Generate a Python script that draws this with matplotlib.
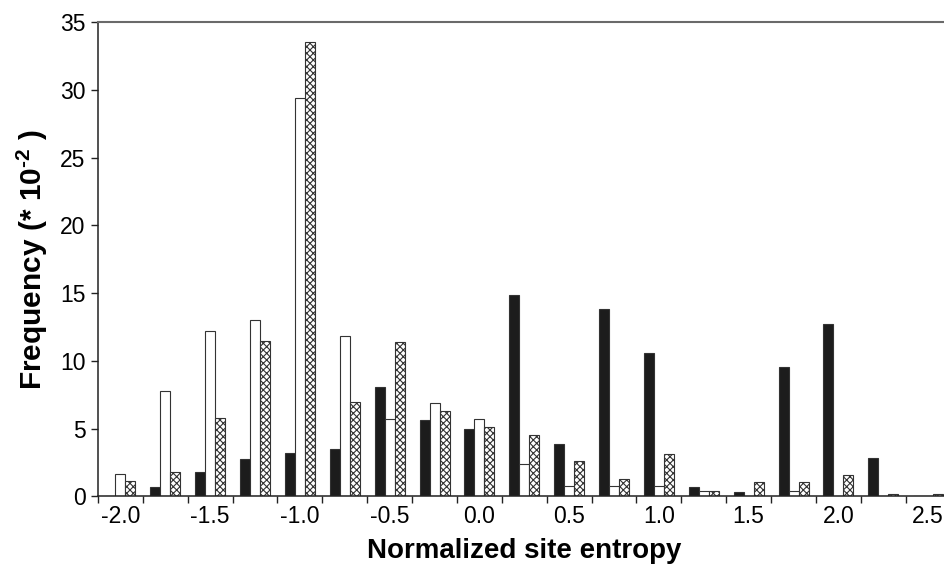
import numpy as np
import matplotlib
matplotlib.use("Agg")
import matplotlib.pyplot as plt

plt.rcParams['font.family'] = ['Liberation Sans', 'DejaVu Sans']
plt.rcParams['mathtext.fontset'] = 'custom'
plt.rcParams['mathtext.rm'] = 'Liberation Sans:bold'
plt.rcParams['mathtext.bf'] = 'Liberation Sans:bold'
plt.rcParams['hatch.linewidth'] = 0.8

# bin centres of normalized site entropy
bins = [-2.0, -1.75, -1.5, -1.25, -1.0, -0.75, -0.5, -0.25, 0.0, 0.25,
        0.5, 0.75, 1.0, 1.25, 1.5, 1.75, 2.0, 2.25, 2.5]
# frequency (* 10^-2) for the three series
black_vals = [0.0, 0.7, 1.8, 2.8, 3.2, 3.5, 8.1, 5.65, 4.95, 14.85,
              3.9, 13.8, 10.6, 0.7, 0.3, 9.55, 12.75, 2.85, 0.0]
white_vals = [1.65, 7.75, 12.2, 13.05, 29.4, 11.85, 5.7, 6.9, 5.7, 2.4,
              0.8, 0.8, 0.8, 0.4, 0.0, 0.4, 0.0, 0.0, 0.0]
hatch_vals = [1.15, 1.8, 5.8, 11.45, 33.5, 6.95, 11.4, 6.3, 5.15, 4.5,
              2.65, 1.3, 3.1, 0.4, 1.1, 1.1, 1.55, 0.2, 0.2]
tick_labels = ['-2.0', '-1.5', '-1.0', '-0.5', '0.0', '0.5', '1.0', '1.5', '2.0', '2.5']

fig = plt.figure(figsize=(9.45, 5.68), dpi=100)
ax = fig.add_axes([0.1037, 0.1259, 0.9022, 0.8354])

x = np.arange(len(bins))
w = 0.223
edge = '#333333'
ax.bar(x - w, black_vals, w, color='#1c1c1c', edgecolor=edge, linewidth=0.8)
ax.bar(x, white_vals, w, color='white', edgecolor=edge, linewidth=0.8)
ax.bar(x + w, hatch_vals, w, color='white', edgecolor=edge, linewidth=0.8,
       hatch='xxxxx')

ax.set_xlim(-0.5, len(bins) - 0.5)
ax.set_ylim(0, 35)
ax.set_yticks(np.arange(0, 36, 5))
ax.set_xticks(np.arange(-0.5, len(bins), 1))
ax.set_xticklabels([])
ax.set_xticks(x[::2], minor=True)
ax.set_xticklabels(tick_labels, minor=True)
ax.tick_params(axis='x', which='minor', length=0, pad=6, labelsize=16.5)
ax.tick_params(axis='x', which='major', direction='out', length=5, width=1, color='#222222')
ax.tick_params(axis='y', direction='out', length=5, width=1, color='#222222',
               labelsize=16.5, pad=4)

for s in ['left', 'bottom']:
    ax.spines[s].set_color('#222222')
    ax.spines[s].set_linewidth(1.1)
ax.spines['top'].set_color('#6a6a6a')
ax.spines['top'].set_linewidth(1.5)
ax.spines['right'].set_visible(False)

ax.set_xlabel('Normalized site entropy', fontsize=20, fontweight='bold', labelpad=7)
ax.set_ylabel(r'Frequency (* 10$^{\text{-2}}$ )', fontsize=21.5, fontweight='bold', labelpad=7)

fig.savefig('out.png', dpi=100)
